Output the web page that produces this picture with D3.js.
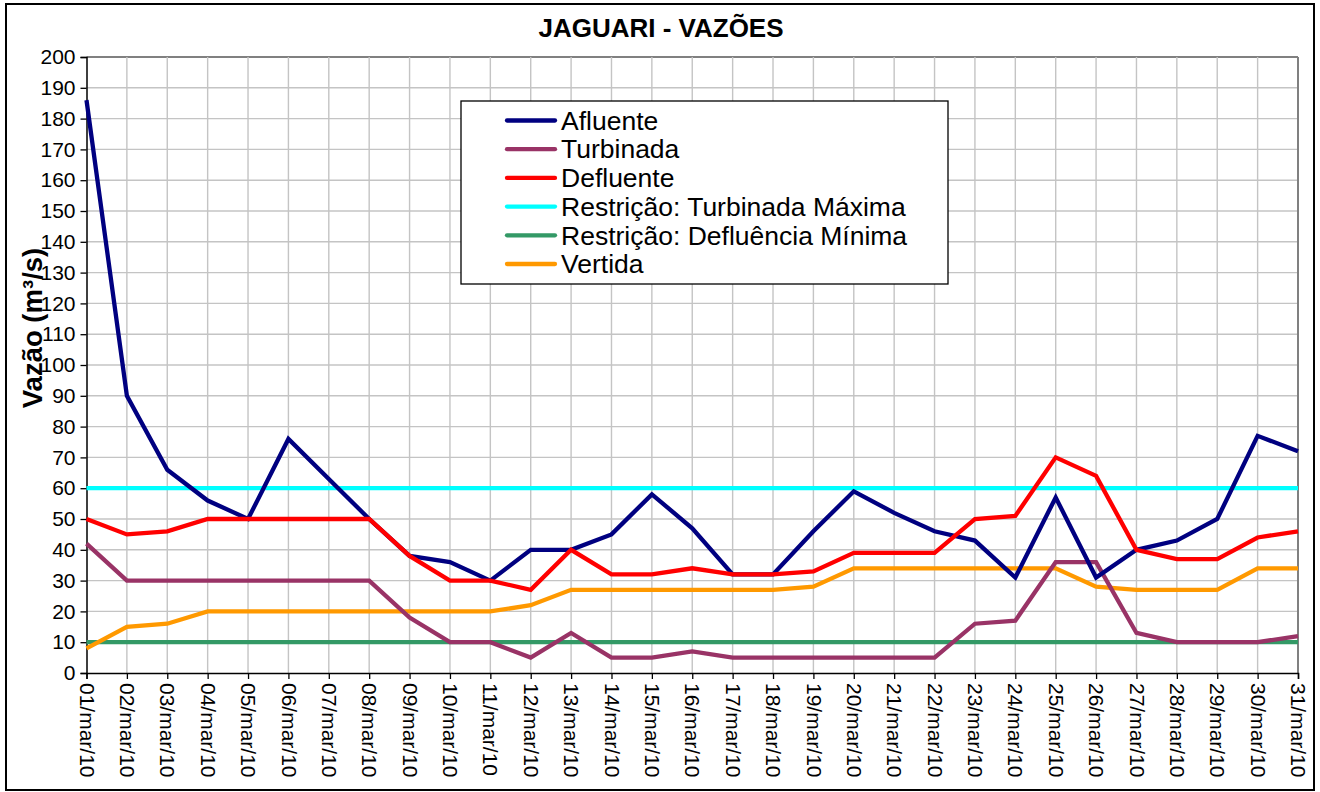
<!DOCTYPE html>
<html><head><meta charset="utf-8">
<script src="https://cdn.jsdelivr.net/npm/d3@7"></script>
<style>body{margin:0;background:#fff}svg{display:block}text{font-family:"Liberation Sans",Arial,sans-serif}</style>
</head><body>
<script>
const days = ["01/mar/10","02/mar/10","03/mar/10","04/mar/10","05/mar/10","06/mar/10","07/mar/10","08/mar/10","09/mar/10","10/mar/10","11/mar/10","12/mar/10","13/mar/10","14/mar/10","15/mar/10","16/mar/10","17/mar/10","18/mar/10","19/mar/10","20/mar/10","21/mar/10","22/mar/10","23/mar/10","24/mar/10","25/mar/10","26/mar/10","27/mar/10","28/mar/10","29/mar/10","30/mar/10","31/mar/10"];
const afluente   = [186,90,66,56,50,76,63,50,38,36,30,40,40,45,58,47,32,32,46,59,52,46,43,31,57,31,40,43,50,77,72];
const turbinada  = [42,30,30,30,30,30,30,30,18,10,10,5,13,5,5,7,5,5,5,5,5,5,16,17,36,36,13,10,10,10,12];
const defluente  = [50,45,46,50,50,50,50,50,38,30,30,27,40,32,32,34,32,32,33,39,39,39,50,51,70,64,40,37,37,44,46];
const turbMax    = days.map(() => 60);
const deflMin    = days.map(() => 10);
const vertida    = [8,15,16,20,20,20,20,20,20,20,20,22,27,27,27,27,27,27,28,34,34,34,34,34,34,28,27,27,27,34,34];
const yTicks = d3.range(0, 201, 10);
const seriesNames = ["Afluente","Turbinada","Defluente","Restrição: Turbinada Máxima","Restrição: Defluência Mínima","Vertida"];
const seriesColors = ["#000080","#993366","#ff0000","#00ffff","#339966","#ff9900"];
const seriesData = [afluente, turbinada, defluente, turbMax, deflMin, vertida];
const drawOrder = [3,4,5,1,0,2];

const W = 1320, H = 792;
const svg = d3.select("body").append("svg").attr("width", W).attr("height", H);
svg.append("rect").attr("x",6).attr("y",4).attr("width",1308).attr("height",786)
  .attr("fill","#fff").attr("stroke","#000").attr("stroke-width",2);

const x = d3.scalePoint().domain(days).range([86.5, 1298]);
const y = d3.scaleLinear().domain([0, 200]).range([673, 57]);

// grid
const g = svg.append("g");
g.selectAll(".hg").data(yTicks.filter(v => v > 0)).enter().append("line")
  .attr("x1", 86.5).attr("x2", 1298).attr("y1", d => y(d)).attr("y2", d => y(d))
  .attr("stroke", d => d === 200 ? "#808080" : "#c4c4c4").attr("stroke-width", d => d === 200 ? 2 : 1.4);
g.selectAll(".vg").data(days.slice(1)).enter().append("line")
  .attr("x1", d => x(d)).attr("x2", d => x(d)).attr("y1", y(200)).attr("y2", y(0))
  .attr("stroke", (d,i) => i === days.length - 2 ? "#808080" : "#c4c4c4")
  .attr("stroke-width", (d,i) => i === days.length - 2 ? 2 : 1.4);

// axes
const yAxis = d3.axisLeft(y).tickValues(yTicks).tickSize(6).tickPadding(6).tickFormat(d3.format("d"));
const ya = svg.append("g").attr("transform", `translate(${86.5},0)`).call(yAxis);
ya.select(".domain").attr("stroke","#000").attr("stroke-width",1.5);
ya.selectAll(".tick line").attr("stroke","#000").attr("stroke-width",1.3);
ya.selectAll(".tick text").attr("font-size", 21).attr("fill","#000").attr("font-family","Liberation Sans, Arial, sans-serif").attr("x",-11);

const xAxis = d3.axisBottom(x).tickSize(6).tickPadding(0);
const xa = svg.append("g").attr("transform", `translate(0,${y(0)})`).call(xAxis);
xa.select(".domain").attr("stroke","#000").attr("stroke-width",1.5);
xa.selectAll(".tick line").attr("stroke","#000").attr("stroke-width",1.3);
xa.selectAll(".tick text").attr("font-size", 21).attr("fill","#000").attr("font-family","Liberation Sans, Arial, sans-serif")
  .attr("transform","rotate(90)").attr("x", 10).attr("y", 0).attr("dy","0.35em").attr("text-anchor","start");

// lines
const line = d3.line().x((d,i) => x(days[i])).y(d => y(d));
drawOrder.forEach(k => {
  svg.append("path").datum(seriesData[k]).attr("d", line)
    .attr("fill","none").attr("stroke", seriesColors[k]).attr("stroke-width", 4.3).attr("stroke-linejoin","miter");
});

// title
svg.append("text").attr("x", 661).attr("y", 37).attr("text-anchor","middle")
  .attr("font-size", 26).attr("font-weight","bold").text("JAGUARI - VAZÕES");
svg.append("text").attr("transform","translate(42,328) rotate(-90)").attr("text-anchor","middle")
  .attr("font-size", 27.5).attr("font-weight","bold").text("Vazão (m³/s)");

// legend
const lg = svg.append("g");
lg.append("rect").attr("x",461).attr("y",101).attr("width",487).attr("height",183)
  .attr("fill","#fff").attr("stroke","#000").attr("stroke-width",1.3);
seriesNames.forEach((n, i) => {
  const cy = 120.5 + i * 28.7;
  lg.append("line").attr("x1",507).attr("x2",555).attr("y1",cy).attr("y2",cy)
    .attr("stroke", seriesColors[i]).attr("stroke-width",4.3).attr("stroke-linecap","round");
  lg.append("text").attr("x",561).attr("y",cy).attr("dy","0.35em").attr("font-size",26.5).text(n);
});
</script>
</body></html>
